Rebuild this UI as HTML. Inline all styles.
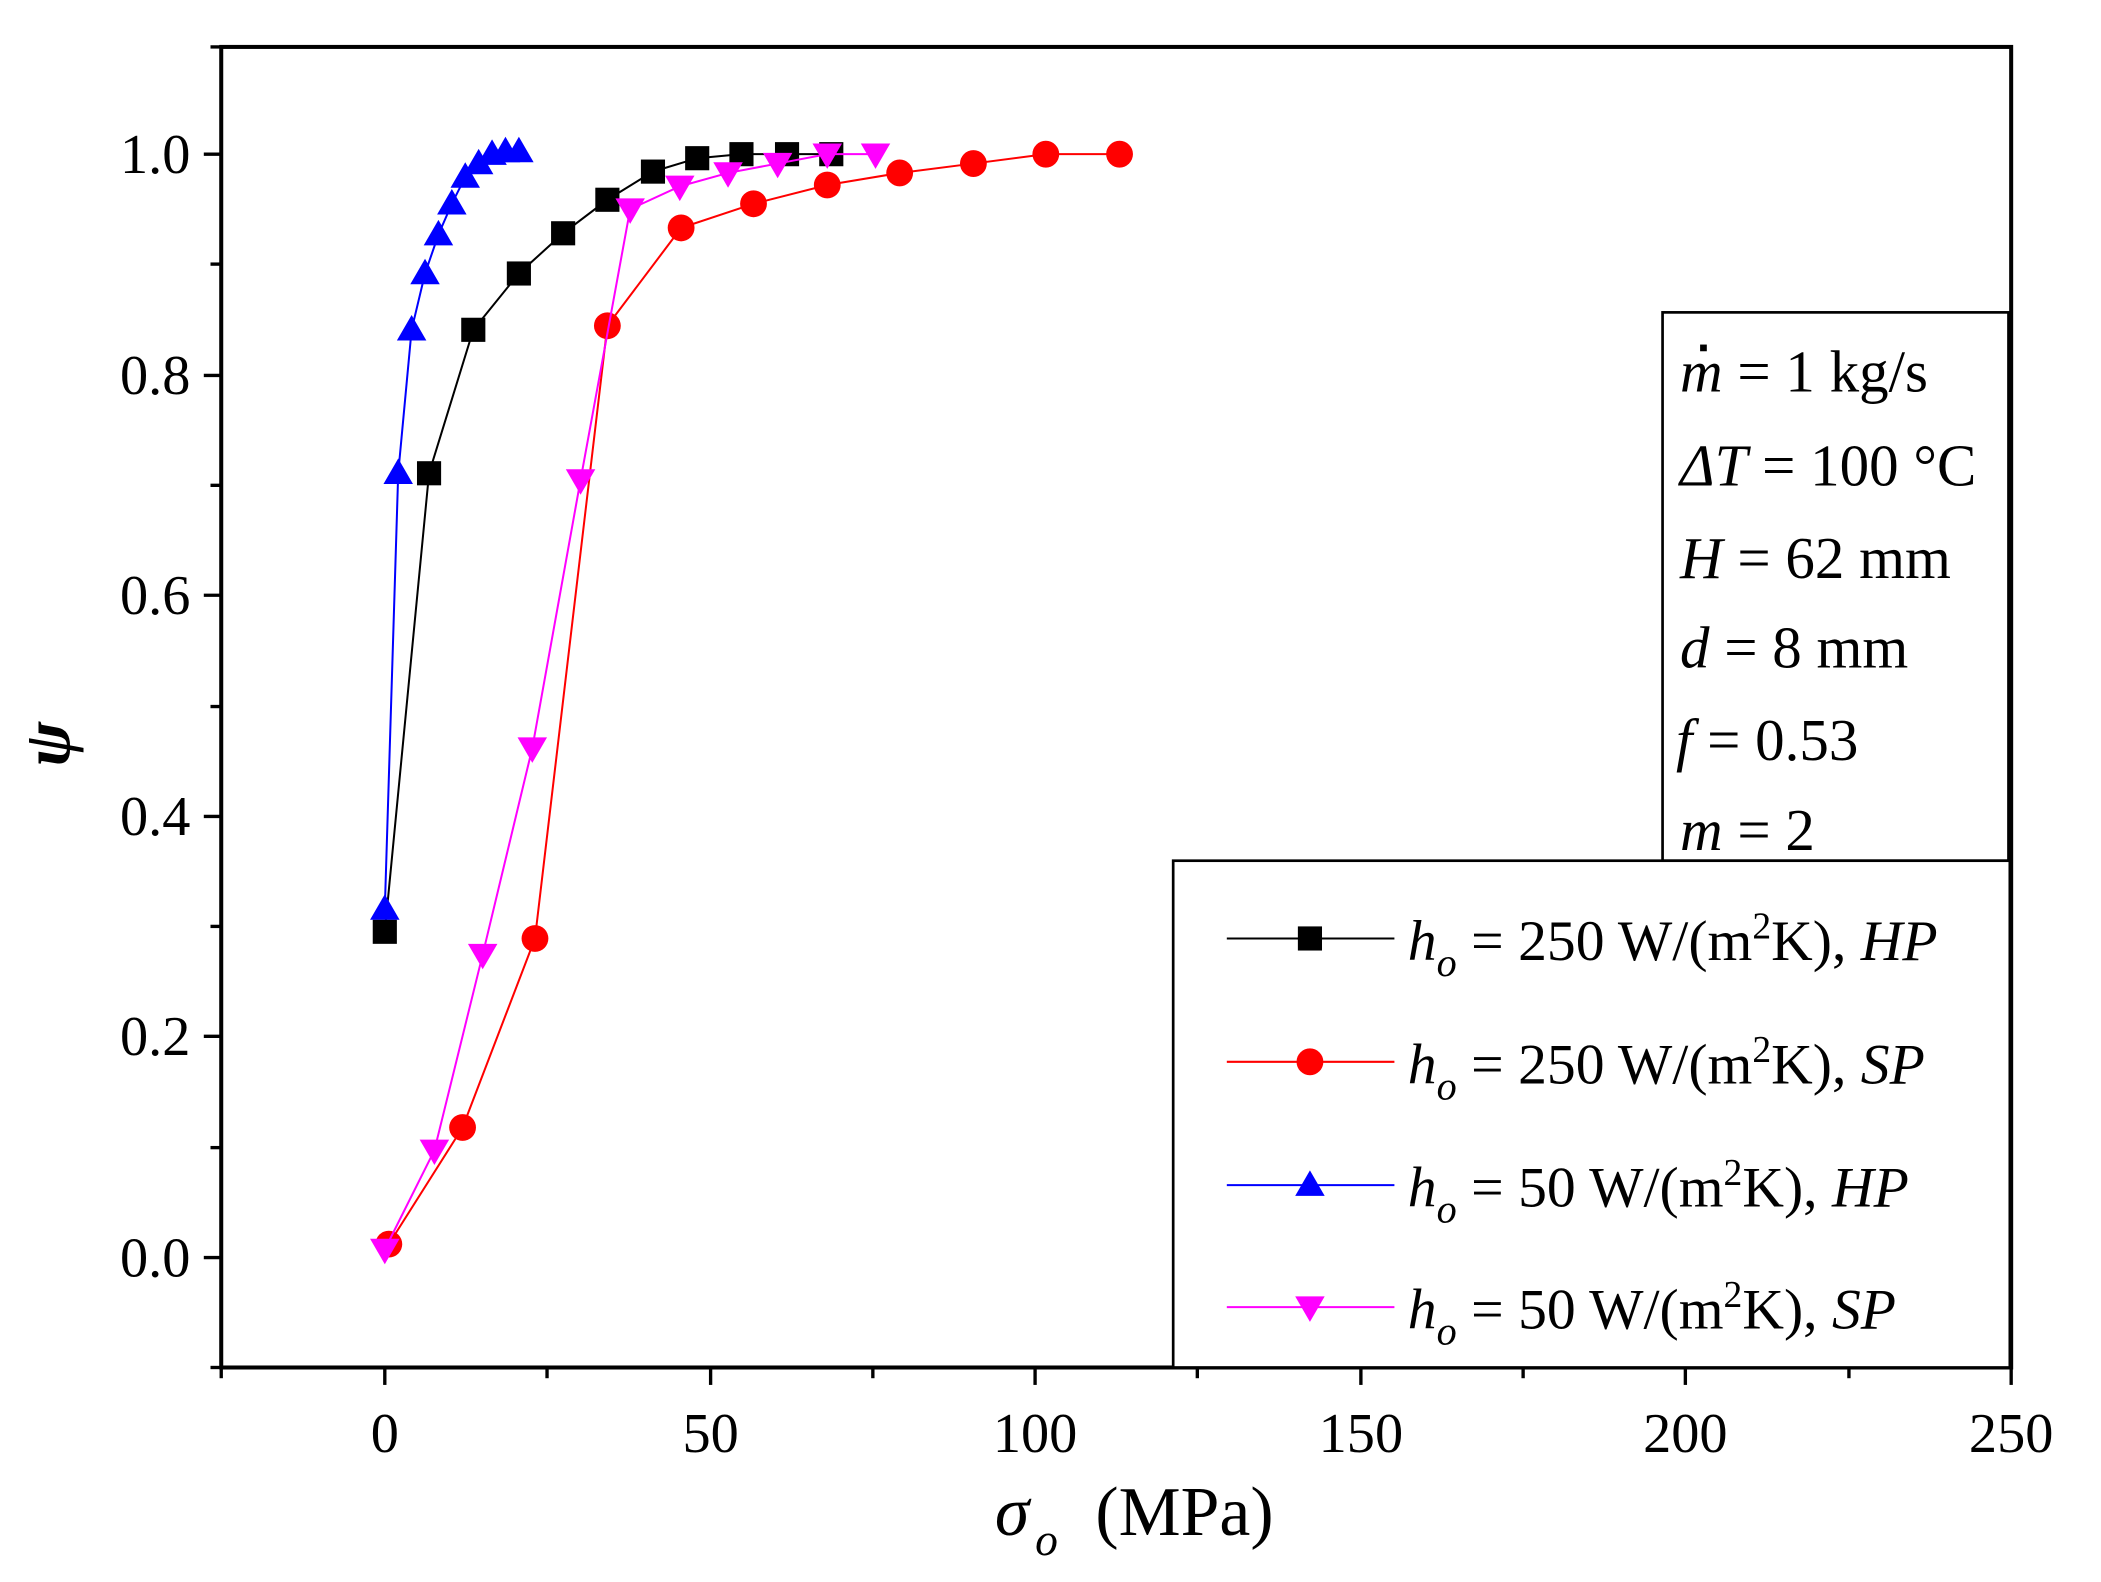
<!DOCTYPE html>
<html><head><style>
html,body{margin:0;padding:0;background:#fff;}
svg{display:block;}
text{font-family:"Liberation Serif",serif;}
</style></head><body>
<svg width="2101" height="1582" viewBox="0 0 1567 1180" preserveAspectRatio="none" xmlns="http://www.w3.org/2000/svg">
<rect x="0" y="0" width="1567" height="1180" fill="#fff"/>
<rect x="165" y="35" width="1335" height="985" fill="none" stroke="#000" stroke-width="3"/>
<g stroke="#000" stroke-width="2.5">
<line x1="165" y1="1020" x2="165" y2="1028"/>
<line x1="287" y1="1020" x2="287" y2="1033"/>
<line x1="408" y1="1020" x2="408" y2="1028"/>
<line x1="530" y1="1020" x2="530" y2="1033"/>
<line x1="651" y1="1020" x2="651" y2="1028"/>
<line x1="772" y1="1020" x2="772" y2="1033"/>
<line x1="893" y1="1020" x2="893" y2="1028"/>
<line x1="1015" y1="1020" x2="1015" y2="1033"/>
<line x1="1136" y1="1020" x2="1136" y2="1028"/>
<line x1="1257" y1="1020" x2="1257" y2="1033"/>
<line x1="1379" y1="1020" x2="1379" y2="1028"/>
<line x1="1500" y1="1020" x2="1500" y2="1033"/>
<line x1="165" y1="1020" x2="157" y2="1020"/>
<line x1="165" y1="938" x2="152" y2="938"/>
<line x1="165" y1="856" x2="157" y2="856"/>
<line x1="165" y1="773" x2="152" y2="773"/>
<line x1="165" y1="691" x2="157" y2="691"/>
<line x1="165" y1="609" x2="152" y2="609"/>
<line x1="165" y1="527" x2="157" y2="527"/>
<line x1="165" y1="444" x2="152" y2="444"/>
<line x1="165" y1="362" x2="157" y2="362"/>
<line x1="165" y1="280" x2="152" y2="280"/>
<line x1="165" y1="197" x2="157" y2="197"/>
<line x1="165" y1="115" x2="152" y2="115"/>
<line x1="165" y1="35" x2="157" y2="35"/>
</g>
<g font-size="42" text-anchor="middle">
<text x="287" y="1083">0</text><text x="530" y="1083">50</text><text x="772" y="1083">100</text>
<text x="1015" y="1083">150</text><text x="1257" y="1083">200</text><text x="1500" y="1083">250</text>
</g>
<g font-size="42" text-anchor="end">
<text x="142" y="952">0.0</text><text x="142" y="787">0.2</text><text x="142" y="623">0.4</text>
<text x="142" y="458">0.6</text><text x="142" y="294">0.8</text><text x="142" y="129">1.0</text>
</g>
<text x="742" y="1145" font-size="52" font-style="italic">σ</text>
<text x="772" y="1160" font-size="34" font-style="italic">o</text>
<text x="817" y="1145" font-size="52">(MPa)</text>
<text x="52" y="555" font-size="50" font-style="italic" font-weight="bold" transform="rotate(-90 52 555)" text-anchor="middle">ψ</text>

<polyline fill="none" stroke="#000" stroke-width="1.5" points="287,695 320,353 353,246 387,204 420,174 453,149 487,128 520,118 553,115 587,115 620,115"/>
<g fill="#000">
<rect x="278" y="686" width="18" height="18"/><rect x="311" y="344" width="18" height="18"/><rect x="344" y="237" width="18" height="18"/><rect x="378" y="195" width="18" height="18"/><rect x="411" y="165" width="18" height="18"/><rect x="444" y="140" width="18" height="18"/><rect x="478" y="119" width="18" height="18"/><rect x="511" y="109" width="18" height="18"/><rect x="544" y="106" width="18" height="18"/><rect x="578" y="106" width="18" height="18"/><rect x="611" y="106" width="18" height="18"/>
</g>
<polyline fill="none" stroke="#f00" stroke-width="1.5" points="290,928 345,841 399,700 453,243 508,170 562,152 617,138 671,129 726,122 780,115 835,115"/>
<g fill="#f00">
<circle cx="290" cy="928" r="10"/><circle cx="345" cy="841" r="10"/><circle cx="399" cy="700" r="10"/><circle cx="453" cy="243" r="10"/><circle cx="508" cy="170" r="10"/><circle cx="562" cy="152" r="10"/><circle cx="617" cy="138" r="10"/><circle cx="671" cy="129" r="10"/><circle cx="726" cy="122" r="10"/><circle cx="780" cy="115" r="10"/><circle cx="835" cy="115" r="10"/>
</g>
<polyline fill="none" stroke="#00f" stroke-width="1.5" points="287,678 297,353 307,246 317,204 327,175 337,152 347,132 357,122 367,115 377,113 387,113"/>
<g fill="#00f">
<path d="M287,667 l11,19 h-22z"/><path d="M297,342 l11,19 h-22z"/><path d="M307,235 l11,19 h-22z"/><path d="M317,193 l11,19 h-22z"/><path d="M327,164 l11,19 h-22z"/><path d="M337,141 l11,19 h-22z"/><path d="M347,121 l11,19 h-22z"/><path d="M357,111 l11,19 h-22z"/><path d="M367,104 l11,19 h-22z"/><path d="M377,102 l11,19 h-22z"/><path d="M387,102 l11,19 h-22z"/>
</g>
<polyline fill="none" stroke="#f0f" stroke-width="1.5" points="287,932 324,858 360,712 397,558 433,358 470,156 507,139 543,129 580,122 617,115 653,115"/>
<g fill="#f0f">
<path d="M287,943 l11,-19 h-22z"/><path d="M324,869 l11,-19 h-22z"/><path d="M360,723 l11,-19 h-22z"/><path d="M397,569 l11,-19 h-22z"/><path d="M433,369 l11,-19 h-22z"/><path d="M470,167 l11,-19 h-22z"/><path d="M507,150 l11,-19 h-22z"/><path d="M543,140 l11,-19 h-22z"/><path d="M580,133 l11,-19 h-22z"/><path d="M617,126 l11,-19 h-22z"/><path d="M653,126 l11,-19 h-22z"/>
</g>

<rect x="1240" y="233" width="258" height="409" fill="#fff" stroke="#000" stroke-width="2"/>
<g font-size="44">
<text x="1253" y="292"><tspan font-style="italic">m</tspan> = 1 kg/s</text>
<rect x="1268" y="257" width="5" height="5" fill="#000"/>
<text x="1253" y="362"><tspan font-style="italic">ΔT</tspan> = 100 °C</text>
<text x="1253" y="431"><tspan font-style="italic">H</tspan> = 62 mm</text>
<text x="1253" y="498"><tspan font-style="italic">d</tspan> = 8 mm</text>
<text x="1250" y="567"><tspan font-style="italic">f</tspan> = 0.53</text>
<text x="1253" y="634"><tspan font-style="italic">m</tspan> = 2</text>
</g>

<rect x="875" y="642" width="624" height="378" fill="#fff" stroke="#000" stroke-width="2"/>
<g stroke-width="1.5">
<line x1="915" y1="700" x2="1040" y2="700" stroke="#000"/>
<line x1="915" y1="792" x2="1040" y2="792" stroke="#f00"/>
<line x1="915" y1="884" x2="1040" y2="884" stroke="#00f"/>
<line x1="915" y1="975" x2="1040" y2="975" stroke="#f0f"/>
</g>
<rect x="968" y="691" width="18" height="18" fill="#000"/>
<circle cx="977" cy="792" r="10" fill="#f00"/>
<path d="M977,873 l11,19 h-22z" fill="#00f"/>
<path d="M977,986 l11,-19 h-22z" fill="#f0f"/>
<g font-size="43">
<text x="1050" y="716"><tspan font-style="italic">h</tspan><tspan font-size="30" font-style="italic" dy="12">o</tspan><tspan dy="-12"> = 250 W/(m</tspan><tspan font-size="28" dy="-16">2</tspan><tspan dy="16">K), </tspan><tspan font-style="italic">HP</tspan></text>
<text x="1050" y="808"><tspan font-style="italic">h</tspan><tspan font-size="30" font-style="italic" dy="12">o</tspan><tspan dy="-12"> = 250 W/(m</tspan><tspan font-size="28" dy="-16">2</tspan><tspan dy="16">K), </tspan><tspan font-style="italic">SP</tspan></text>
<text x="1050" y="900"><tspan font-style="italic">h</tspan><tspan font-size="30" font-style="italic" dy="12">o</tspan><tspan dy="-12"> = 50 W/(m</tspan><tspan font-size="28" dy="-16">2</tspan><tspan dy="16">K), </tspan><tspan font-style="italic">HP</tspan></text>
<text x="1050" y="991"><tspan font-style="italic">h</tspan><tspan font-size="30" font-style="italic" dy="12">o</tspan><tspan dy="-12"> = 50 W/(m</tspan><tspan font-size="28" dy="-16">2</tspan><tspan dy="16">K), </tspan><tspan font-style="italic">SP</tspan></text>
</g>
</svg>
</body></html>
